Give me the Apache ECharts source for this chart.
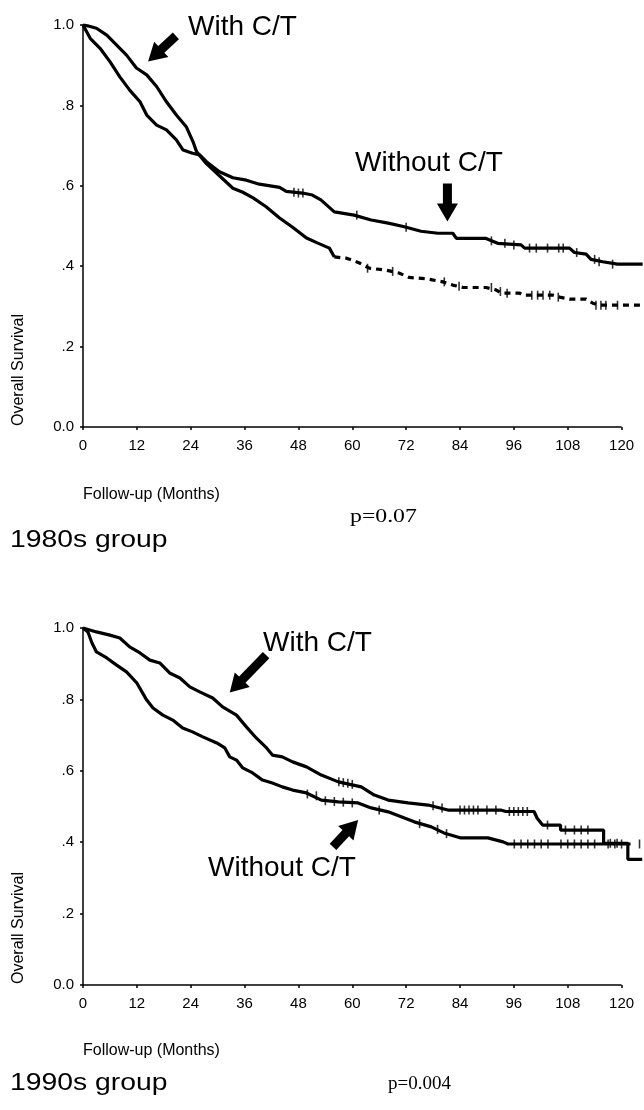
<!DOCTYPE html>
<html>
<head>
<meta charset="utf-8">
<script src="https://cdn.jsdelivr.net/npm/echarts@6/dist/echarts.min.js"></script>
<style>
  html, body { margin: 0; padding: 0; background: #fff; }
  #main { width: 644px; height: 1110px; }
</style>
</head>
<body>
<div id="main"></div>
<script>
// tick labels
const monthTicks = [0, 12, 24, 36, 48, 60, 72, 84, 96, 108, 120]
const yLabels = ['0.0', '.2', '.4', '.6', '.8', '1.0']

// 1980s group, [month, survival]
const withCT80 = [[0,1.0],[1,0.998],[3,0.992],[5.3,0.975],[7.5,0.95],[9.7,0.925],[11.9,0.893],[14.2,0.876],[16.4,0.847],[18.6,0.809],[20.8,0.776],[23,0.747],[24.5,0.71],[25.3,0.685],[27.5,0.655],[30.4,0.625],[33.4,0.594],[35.6,0.584],[37.9,0.57],[40.8,0.548],[43.8,0.52],[46.7,0.497],[49.8,0.47],[52.2,0.458],[54.9,0.445],[56,0.423],[58.7,0.42],[61.6,0.408],[63.8,0.395],[67.6,0.39],[70.4,0.383],[72.7,0.372],[76.4,0.369],[80.2,0.361],[82.4,0.353],[84.7,0.347],[89.8,0.347],[92,0.341],[93.2,0.333],[97.3,0.333],[98,0.328],[104.7,0.328],[106.2,0.323],[108.4,0.318],[112.1,0.318],[113.6,0.308],[115,0.303],[124.7,0.303]]
const withoutCT80 = [[0,1.0],[1.6,0.967],[3.8,0.942],[6,0.909],[8.2,0.871],[10.4,0.838],[12.7,0.809],[14.2,0.776],[16.4,0.751],[18.6,0.739],[20.8,0.714],[22.3,0.689],[24.4,0.681],[26,0.677],[27.5,0.66],[30.4,0.635],[33.4,0.62],[36.4,0.614],[39.3,0.604],[43.8,0.596],[45.3,0.586],[48.9,0.582],[51.1,0.577],[53,0.565],[56,0.535],[60.4,0.527],[64.2,0.515],[68,0.507],[71.6,0.498],[75.3,0.487],[79.1,0.482],[82.4,0.482],[83.2,0.469],[89.8,0.469],[92.4,0.457],[97.6,0.453],[98.4,0.445],[108.4,0.445],[109.5,0.434],[112.1,0.43],[113.2,0.417],[115.8,0.411],[119.1,0.405],[124.7,0.405]]
const censorWith80 = [[63.4,0.395],[69,0.387],[80.5,0.361],[83.8,0.35],[91,0.347],[93,0.337],[94.5,0.333],[100,0.328],[101.3,0.328],[102.5,0.328],[104,0.328],[105.9,0.323],[114.3,0.303],[115.4,0.303],[116.5,0.303],[119.1,0.303]]
const censorWithout80 = [[47,0.584],[48,0.582],[49,0.582],[61,0.527],[72,0.497],[91,0.463],[94,0.457],[96,0.453],[99.5,0.445],[101,0.445],[103.5,0.445],[106,0.445],[107,0.445],[110,0.434],[114,0.417],[115,0.411],[118,0.405]]

// 1990s group
const withCT90 = [[0,1.0],[3,0.989],[6,0.98],[8.2,0.972],[10.4,0.947],[12.7,0.93],[14.9,0.91],[17.1,0.902],[19.3,0.874],[21.6,0.86],[23.8,0.835],[26,0.821],[28.9,0.804],[31.1,0.779],[34.2,0.756],[36.4,0.723],[38.6,0.692],[40.9,0.664],[42.2,0.644],[44.4,0.639],[46.7,0.625],[49.8,0.611],[53.1,0.588],[56.9,0.569],[62,0.555],[64.9,0.532],[68,0.518],[72.4,0.51],[76.9,0.504],[81.3,0.49],[93.1,0.49],[94.2,0.486],[100.5,0.486],[101.2,0.467],[102.4,0.448],[106.4,0.448],[106.4,0.434],[116,0.434],[116,0.397],[121.4,0.397],[121.4,0.352],[124.6,0.352]]
const withoutCT90 = [[0,1.0],[1.1,0.989],[2,0.958],[3,0.933],[5.3,0.916],[7.5,0.896],[9.7,0.877],[12,0.846],[14.2,0.798],[15.6,0.776],[17.8,0.756],[20,0.742],[22.2,0.72],[24.4,0.709],[26.7,0.695],[29.8,0.678],[31.6,0.664],[32.7,0.639],[34.2,0.63],[35.6,0.608],[37.8,0.594],[40,0.574],[42.2,0.566],[44.4,0.555],[46.7,0.546],[49.8,0.538],[53.1,0.518],[56.9,0.513],[61.3,0.51],[64.2,0.496],[68,0.485],[70.9,0.471],[73.8,0.457],[77.6,0.443],[80.4,0.426],[84.2,0.412],[90.2,0.412],[93.6,0.401],[94.7,0.395],[122,0.395]]
const censorWith90 = [[57,0.569],[58,0.567],[59,0.565],[60,0.562],[78,0.502],[80,0.496],[84,0.49],[85,0.49],[86,0.49],[87,0.49],[88,0.49],[90,0.49],[92,0.49],[95,0.486],[96,0.486],[97,0.486],[98,0.486],[99,0.486],[103.5,0.448],[107.5,0.434],[109.5,0.434],[111,0.434],[112.5,0.434],[117.5,0.397],[119,0.397]]
const censorWithout90 = [[50,0.535],[52,0.53],[54,0.516],[56,0.514],[58,0.512],[60,0.51],[66,0.49],[75,0.452],[79,0.436],[81,0.424],[96.1,0.395],[97.6,0.395],[99.1,0.395],[100.6,0.395],[102.1,0.395],[103.6,0.395],[106.5,0.395],[108,0.395],[109.5,0.395],[111,0.395],[112.5,0.395],[114,0.395],[117,0.395],[118.5,0.395],[120,0.395],[124,0.395]]

// arrow annotations: [grid, tail, tip] in data units
const arrows = [
  [0, [20.7, 0.973], [14.5, 0.909]],
  [0, [81.2, 0.606], [81.2, 0.511]],
  [1, [40.8, 0.924], [32.7, 0.819]],
  [1, [55.7, 0.387], [61.3, 0.462]]
]

const dashFrom = 56    // the 1980s C/T curve turns broken from here on
const lastMonth = 125  // curves run a little past the last tick

const sans = "'Liberation Sans', Arial, sans-serif"
const serif = "'Liberation Serif', 'Times New Roman', serif"

const chart = echarts.init(document.getElementById('main'))

function xAxis(i) {
  return {
    gridIndex: i, type: 'value', min: 0, max: lastMonth, interval: 12,
    axisLine: { show: false },
    axisTick: { customValues: monthTicks, length: 3, lineStyle: { color: '#000', width: 1.5 } },
    axisLabel: { customValues: monthTicks, color: '#000', fontSize: 15, fontFamily: sans, margin: 11 },
    splitLine: { show: false }
  }
}
function yAxis(i) {
  return {
    gridIndex: i, type: 'value', min: 0, max: 1, interval: 0.2,
    axisLine: { show: true, lineStyle: { color: '#000', width: 1.5 } },
    axisTick: { show: true, length: 3, lineStyle: { color: '#000', width: 1.5 } },
    axisLabel: { color: '#000', fontSize: 15, fontFamily: sans, margin: 9,
      formatter: (v, idx) => yLabels[idx] },
    splitLine: { show: false }
  }
}
function curve(i, data, type) {
  return {
    type: 'line', xAxisIndex: i, yAxisIndex: i, data: data,
    showSymbol: false, clip: false, animation: false, silent: true,
    lineStyle: { color: '#000', width: 3.2, type: type || 'solid', cap: 'butt' }
  }
}
function censor(i, data) {
  return {
    type: 'scatter', xAxisIndex: i, yAxisIndex: i, data: data,
    symbol: 'rect', symbolSize: [1.6, 9], clip: false, animation: false, silent: true,
    itemStyle: { color: '#000' }
  }
}
// x axis line only up to the 120 tick
function baseLine(i) {
  return {
    type: 'line', xAxisIndex: i, yAxisIndex: i, data: [],
    markLine: { silent: true, symbol: 'none', animation: false, label: { show: false },
      lineStyle: { color: '#000', width: 1.5, type: 'solid' },
      data: [[{ coord: [0, 0] }, { coord: [monthTicks[monthTicks.length - 1], 0] }]] }
  }
}

function label(text, x, y, size, extra, font) {
  return Object.assign({
    type: 'text', x: x, y: y, silent: true,
    style: { text: text, fontSize: size, fontFamily: font || sans, fill: '#000',
      textAlign: 'left', textVerticalAlign: 'middle' }
  }, extra || {})
}
function vlabel(text, x, y) {
  return {
    type: 'text', x: x, y: y, rotation: Math.PI / 2, silent: true,
    style: { text: text, fontSize: 16, fontFamily: sans, fill: '#000',
      textAlign: 'center', textVerticalAlign: 'middle' }
  }
}

chart.setOption({
  animation: false,
  grid: [
    { left: 83, top: 25, width: 4.5 * lastMonth, height: 402 },
    { left: 83, top: 628, width: 4.5 * lastMonth, height: 357 }
  ],
  xAxis: [xAxis(0), xAxis(1)],
  yAxis: [yAxis(0), yAxis(1)],
  series: [
    baseLine(0),
    baseLine(1),
    curve(0, withCT80.filter(d => d[0] <= dashFrom)),
    curve(0, withCT80.filter(d => d[0] >= dashFrom), [6, 5]),
    curve(0, withoutCT80),
    censor(0, censorWith80),
    censor(0, censorWithout80),
    curve(1, withCT90),
    curve(1, withoutCT90),
    censor(1, censorWith90),
    censor(1, censorWithout90)
  ]
})

// arrows placed through the grids' own coordinate systems
const graphics = []
arrows.forEach(a => {
  const p0 = chart.convertToPixel({ gridIndex: a[0] }, a[1])
  const p1 = chart.convertToPixel({ gridIndex: a[0] }, a[2])
  const dx = p1[0] - p0[0], dy = p1[1] - p0[1]
  const len = Math.sqrt(dx * dx + dy * dy)
  const ux = dx / len, uy = dy / len, nx = -uy, ny = ux
  const headLen = 18, headW = 10.5, shaftW = 4.5
  const bx = p1[0] - ux * headLen, by = p1[1] - uy * headLen
  graphics.push({
    type: 'polygon', silent: true,
    shape: { points: [
      [p0[0] + nx * shaftW, p0[1] + ny * shaftW],
      [bx + nx * shaftW, by + ny * shaftW],
      [bx + nx * headW, by + ny * headW],
      [p1[0], p1[1]],
      [bx - nx * headW, by - ny * headW],
      [bx - nx * shaftW, by - ny * shaftW],
      [p0[0] - nx * shaftW, p0[1] - ny * shaftW]
    ] },
    style: { fill: '#000' }
  })
})

graphics.push(
  label('With C/T', 188, 27, 28),
  label('Without C/T', 355, 163, 28),
  vlabel('Overall Survival', 19, 370),
  label('Follow-up (Months)', 83, 495, 16),
  label('p=0.07', 350, 517, 19, { scaleX: 1.25 }, serif),
  label('1980s group', 10, 540, 24, { scaleX: 1.18 }),

  label('With C/T', 263, 643, 28),
  label('Without C/T', 208, 868, 28),
  vlabel('Overall Survival', 19, 928),
  label('Follow-up (Months)', 83, 1051, 16),
  label('p=0.004', 388, 1084, 19, null, serif),
  label('1990s group', 10, 1083, 24, { scaleX: 1.18 })
)

chart.setOption({ graphic: graphics })

window.addEventListener('resize', () => chart.resize())
</script>
</body>
</html>
